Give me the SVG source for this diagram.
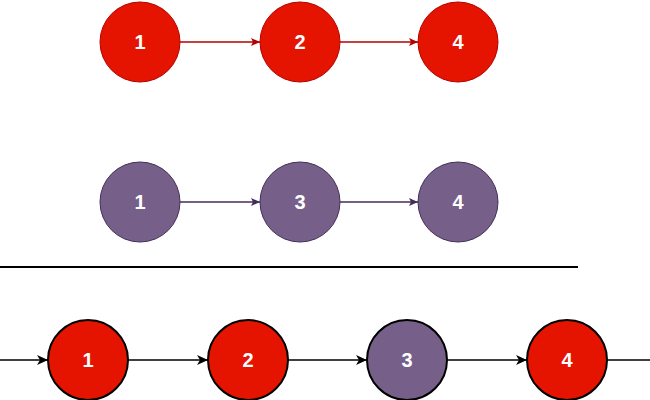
<svg xmlns="http://www.w3.org/2000/svg" width="650" height="400" viewBox="0 0 650 400">
<style>
.r{fill:#e51400}.p{fill:#76608a}
.t{font-family:"Liberation Sans",Arial,sans-serif;font-weight:bold;font-size:20px;fill:#fff;text-anchor:middle;dominant-baseline:central}
.c{fill:none;stroke-width:1.3}
</style>
<defs>
<marker id="ar" markerWidth="10" markerHeight="10" refX="9" refY="5" orient="auto" markerUnits="userSpaceOnUse"><path d="M0,1 L9,5 L0,9 L2,5 Z" fill="#b20000"/></marker>
<marker id="ap" markerWidth="10" markerHeight="10" refX="9" refY="5" orient="auto" markerUnits="userSpaceOnUse"><path d="M0,1 L9,5 L0,9 L2,5 Z" fill="#432d57"/></marker>
<marker id="ak" markerWidth="12" markerHeight="12" refX="11" refY="6" orient="auto" markerUnits="userSpaceOnUse"><path d="M0,1 L11,6 L0,11 L3,6 Z" fill="#000"/></marker>
</defs>
<g id="connectors">
<line class="c" x1="180" y1="42" x2="260" y2="42" stroke="#b20000" marker-end="url(#ar)"/>
<line class="c" x1="340" y1="42" x2="418" y2="42" stroke="#b20000" marker-end="url(#ar)"/>
<line class="c" x1="180" y1="202" x2="260" y2="202" stroke="#432d57" marker-end="url(#ap)"/>
<line class="c" x1="340" y1="202" x2="418" y2="202" stroke="#432d57" marker-end="url(#ap)"/>
<line x1="0" y1="267" x2="578" y2="267" stroke="#000" stroke-width="2"/>
<line class="c" x1="0" y1="360" x2="48" y2="360" stroke="#000" stroke-width="2" marker-end="url(#ak)"/>
<line class="c" x1="128" y1="360" x2="208" y2="360" stroke="#000" stroke-width="2" marker-end="url(#ak)"/>
<line class="c" x1="288" y1="360" x2="367" y2="360" stroke="#000" stroke-width="2" marker-end="url(#ak)"/>
<line class="c" x1="447" y1="360" x2="527" y2="360" stroke="#000" stroke-width="2" marker-end="url(#ak)"/>
<line class="c" x1="607" y1="360" x2="650" y2="360" stroke="#000" stroke-width="2"/>
</g>
<g id="a1"><circle class="r" cx="140" cy="42" r="40" stroke="#b20000"/><text class="t" x="140" y="42">1</text></g>
<g id="a2"><circle class="r" cx="300" cy="42" r="40" stroke="#b20000"/><text class="t" x="300" y="42">2</text></g>
<g id="a4"><circle class="r" cx="458" cy="42" r="40" stroke="#b20000"/><text class="t" x="458" y="42">4</text></g>
<g id="b1"><circle class="p" cx="140" cy="202" r="40" stroke="#432d57"/><text class="t" x="140" y="202">1</text></g>
<g id="b3"><circle class="p" cx="300" cy="202" r="40" stroke="#432d57"/><text class="t" x="300" y="202">3</text></g>
<g id="b4"><circle class="p" cx="458" cy="202" r="40" stroke="#432d57"/><text class="t" x="458" y="202">4</text></g>
<g id="c1"><circle class="r" cx="88" cy="360" r="40" stroke="#000" stroke-width="2"/><text class="t" x="88" y="360">1</text></g>
<g id="c2"><circle class="r" cx="248" cy="360" r="40" stroke="#000" stroke-width="2"/><text class="t" x="248" y="360">2</text></g>
<g id="c3"><circle class="p" cx="407" cy="360" r="40" stroke="#000" stroke-width="2"/><text class="t" x="407" y="360">3</text></g>
<g id="c4"><circle class="r" cx="567" cy="360" r="40" stroke="#000" stroke-width="2"/><text class="t" x="567" y="360">4</text></g>
</svg>
